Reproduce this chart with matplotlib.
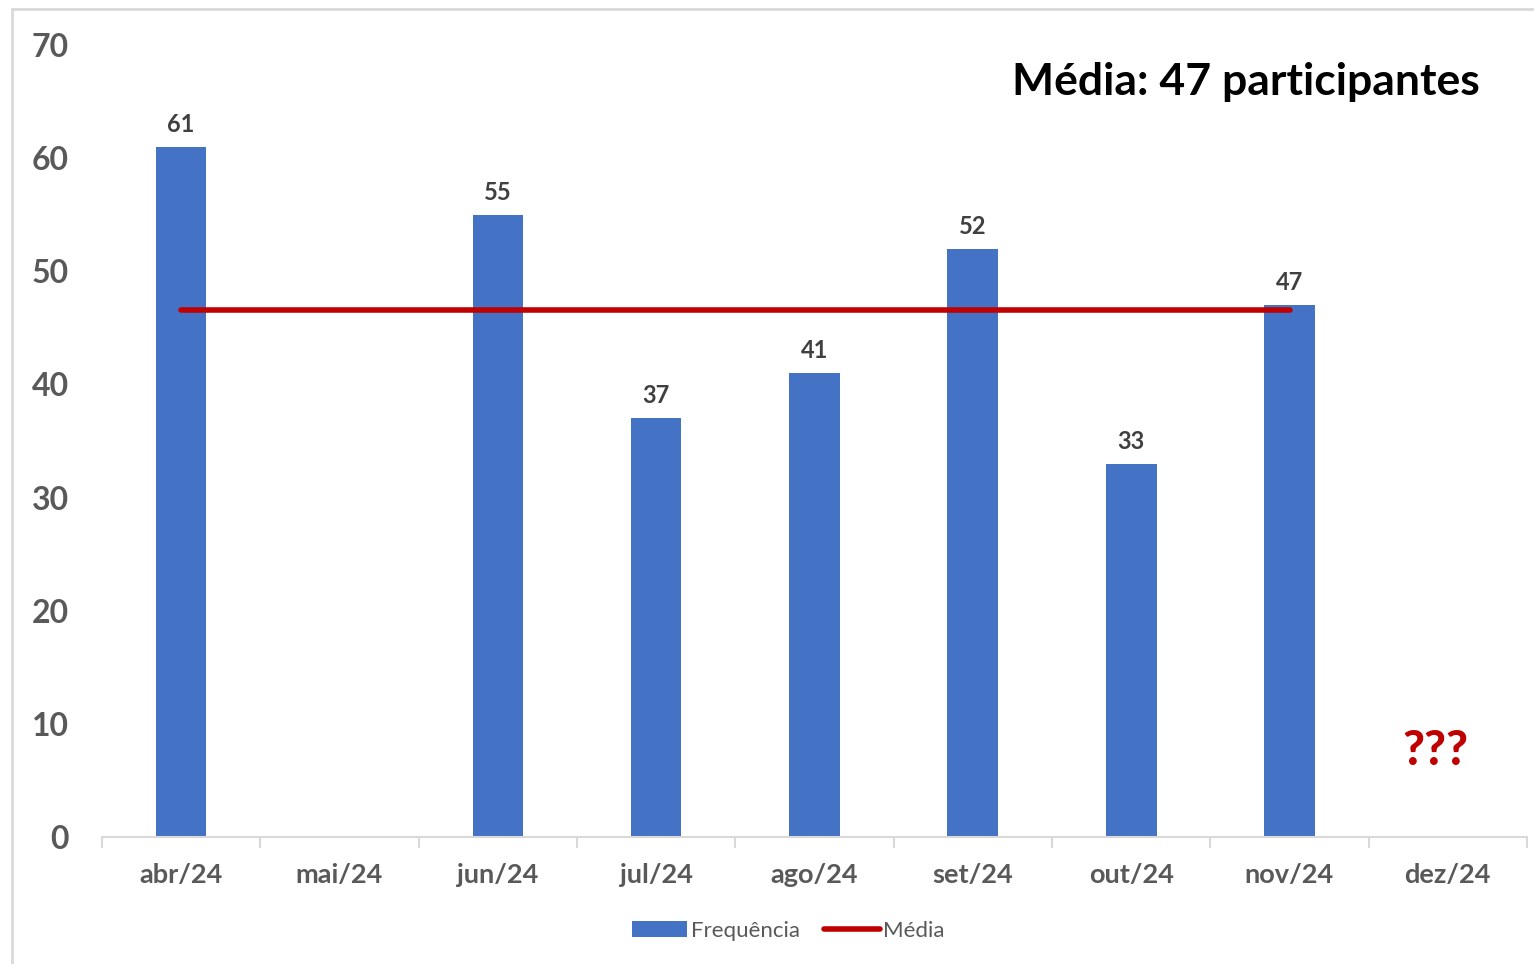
"""
Frequência mensal de participantes com linha da média
"""
import numpy as np
import matplotlib
matplotlib.use('Agg')
import matplotlib.pyplot as plt
import matplotlib.patches as patches
from matplotlib.lines import Line2D

meses = ['abr/24', 'mai/24', 'jun/24', 'jul/24', 'ago/24', 'set/24', 'out/24', 'nov/24', 'dez/24']
frequencia = [61, None, 55, 37, 41, 52, 33, 47, None]
media = [46.6, 46.6, 46.6, 46.6, 46.6, 46.6, 46.6, 46.6, None]
yticks = [0, 10, 20, 30, 40, 50, 60, 70]
titulo = 'Média: 47 participantes'

plt.rcParams['font.family'] = ['Lato', 'DejaVu Sans']
cinza = '#595959'
azul = '#4472C4'
vermelho = '#C00000'

fig = plt.figure(figsize=(15.34, 9.64), dpi=100)
ax = fig.add_axes([102 / 1534, 1 - 837 / 964, 1425 / 1534, 792 / 964])

x = np.arange(len(meses))
alturas = np.array([np.nan if v is None else v for v in frequencia], dtype=float)
ax.bar(x, np.nan_to_num(alturas), width=0.32, color=azul, zorder=2)
for xi, v in zip(x, frequencia):
    if v is not None:
        ax.annotate(str(v), (xi, v), xytext=(0, 8), textcoords='offset points',
                    ha='center', va='bottom', fontsize=17, fontweight='bold', color='#404040')

ym = np.array([np.nan if v is None else v for v in media], dtype=float)
ax.plot(x, ym, color=vermelho, lw=4, solid_capstyle='round', zorder=3)

ax.set_xlim(-0.5, len(meses) - 0.5)
ax.set_ylim(0, 70)
ax.set_yticks(yticks)
ax.set_xticks(x)
ax.set_xticklabels(meses)
ax.set_xticks(np.arange(len(meses) + 1) - 0.5, minor=True)
ax.tick_params(axis='y', length=0, pad=24, labelsize=23, labelcolor=cinza)
for t in ax.get_yticklabels():
    t.set_fontweight('bold')
ax.tick_params(axis='x', which='major', length=0, pad=19, labelsize=19.5, labelcolor=cinza)
for t in ax.get_xticklabels():
    t.set_fontweight('bold')
ax.tick_params(axis='x', which='minor', length=8, width=1.5, color='#D9D9D9', direction='out')

for s in ['top', 'right', 'left']:
    ax.spines[s].set_visible(False)
ax.spines['bottom'].set_color('#D9D9D9')
ax.spines['bottom'].set_linewidth(1.5)

ax.text(1480 / 1534, 1 - 82 / 964, titulo, transform=fig.transFigure, ha='right', va='center',
        fontsize=32, fontweight='bold', color='black')
ax.text(7.92, 7.6, '???', ha='center', va='center', fontsize=34, fontweight='black',
        color=vermelho)

handles = [patches.Patch(facecolor=azul, edgecolor='none'),
           Line2D([0], [0], color=vermelho, lw=4, solid_capstyle='round')]
fig.legend(handles, ['Frequência', 'Média'], loc='center', bbox_to_anchor=(788 / 1534, 1 - 931 / 964),
           ncol=2, frameon=False, fontsize=16, labelcolor=cinza, handlelength=2.5,
           handletextpad=0.15, columnspacing=1.1)

fig.add_artist(patches.Rectangle((12 / 1534, -0.01), 1.0, 1 - 9 / 964 + 0.01, transform=fig.transFigure,
                                 fill=False, edgecolor='#D9D9D9', lw=2))

plt.savefig('out.png', dpi=100, facecolor='white')
